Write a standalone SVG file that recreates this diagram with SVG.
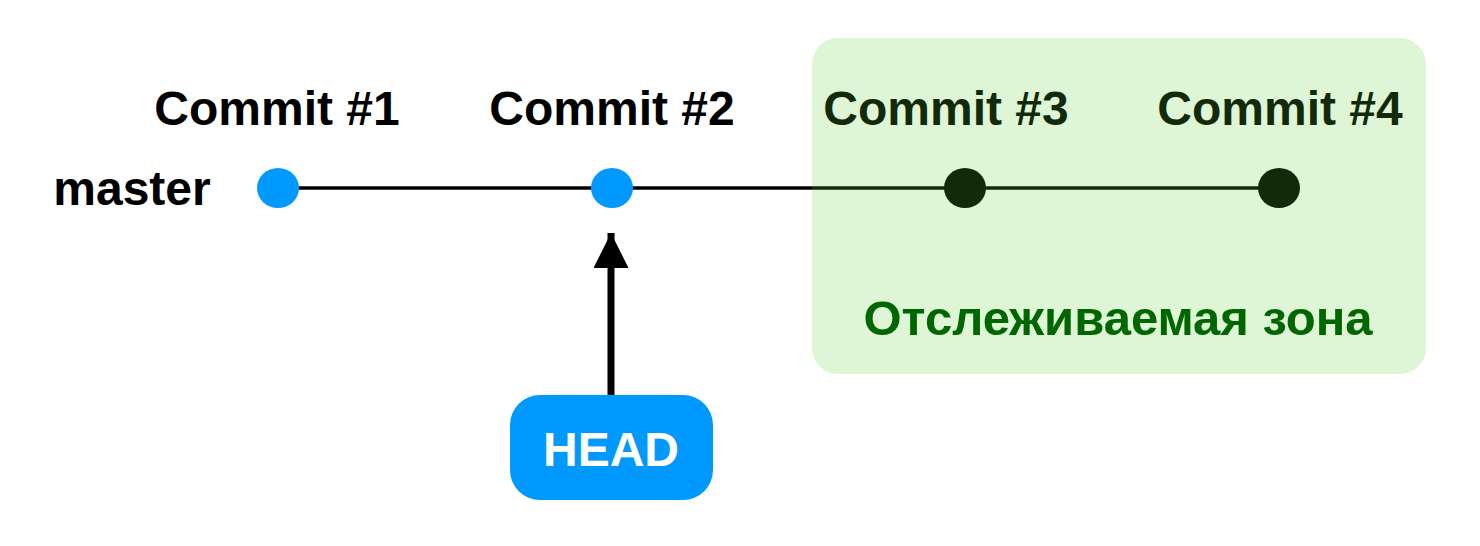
<svg xmlns="http://www.w3.org/2000/svg" width="1480" height="546" viewBox="0 0 1480 546">
<style>
.lbl{font-family:"Liberation Sans",Arial,Helvetica,sans-serif;font-weight:bold;font-size:48px;fill:#000;text-anchor:middle}
.dot{fill:#0099FF}
.zone{fill:#5AD232;fill-opacity:0.2}
</style>
<defs>
<marker id="ah" viewBox="0 0 10 10" refX="10" refY="5" markerWidth="5" markerHeight="5" markerUnits="strokeWidth" orient="auto">
<path d="M0,0 L10,5 L0,10 z" fill="#000"/>
</marker>
</defs>
<rect width="1480" height="546" fill="#fff"/>
<g id="connectors">
<line x1="278" y1="188" x2="1278" y2="188" stroke="#000" stroke-width="3.5"/>
<line x1="611" y1="396" x2="611" y2="233" stroke="#000" stroke-width="7" marker-end="url(#ah)"/>
</g>
<g id="master"><text class="lbl" x="132" y="205" font-size="48.5">master</text></g>
<g id="commit1"><ellipse class="dot" cx="278" cy="188" rx="21" ry="20"/><text class="lbl" x="277" y="125">Commit #1</text></g>
<g id="commit2"><ellipse class="dot" cx="612" cy="188" rx="21" ry="20"/><text class="lbl" x="612" y="125">Commit #2</text></g>
<g id="commit3"><ellipse cx="965" cy="188" rx="21" ry="20" fill="#000"/><text class="lbl" x="946" y="125">Commit #3</text></g>
<g id="commit4"><ellipse cx="1279" cy="188" rx="21" ry="20" fill="#000"/><text class="lbl" x="1280" y="125">Commit #4</text></g>
<g id="zone">
<rect class="zone" x="812" y="38" width="614" height="336" rx="26"/>
<text x="1118" y="335" font-family="'Liberation Sans',Arial,Helvetica,sans-serif" font-weight="bold" font-size="49" fill="#006600" text-anchor="middle">Отслеживаемая зона</text>
</g>
<g id="head">
<rect x="510" y="395" width="203" height="105" rx="30" fill="#0099FF"/>
<text x="611" y="466" font-family="'Liberation Sans',Arial,Helvetica,sans-serif" font-weight="bold" font-size="48" fill="#fff" text-anchor="middle">HEAD</text>
</g>
</svg>
